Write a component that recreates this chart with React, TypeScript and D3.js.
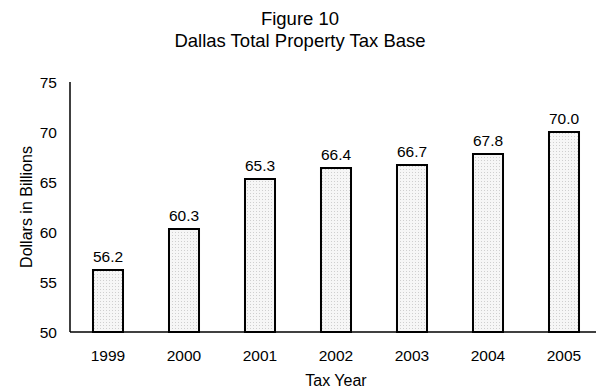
import React from "react";
import * as d3 from "d3";

const categories = ["1999", "2000", "2001", "2002", "2003", "2004", "2005"];
const values = [56.2, 60.3, 65.3, 66.4, 66.7, 67.8, 70.0];
const yTicks = [50, 55, 60, 65, 70, 75];
const titleLines = ["Figure 10", "Dallas Total Property Tax Base"];
const xTitle = "Tax Year";
const yTitle = "Dollars in Billions";

export default function App() {
  const W = 596, H = 389;
  const left = 70, right = 602, top = 82, bottom = 332;
  const x = d3.scaleBand<string>().domain(categories).range([left, right]).paddingInner(0.605).paddingOuter(0.3025);
  const y = d3.scaleLinear().domain([50, 75]).range([bottom, top]);
  const font = "'Liberation Sans', Arial, sans-serif";
  return (
    <svg width={W} height={H} style={{ position: "absolute", left: 0, top: 0, background: "#fff" }} fontFamily={font}>
      <defs>
        <pattern id="dots" width="3" height="3" patternUnits="userSpaceOnUse">
          <rect width="3" height="3" fill="#f6f6f6" />
          <rect x="1" y="1" width="1" height="1" fill="#cfcfcf" />
        </pattern>
      </defs>
      <text x={300} y={25} textAnchor="middle" fontSize={18.5} fill="#000">{titleLines[0]}</text>
      <text x={300} y={47} textAnchor="middle" fontSize={18.5} fill="#000">{titleLines[1]}</text>
      {yTicks.map((t) => (
        <text key={t} x={57} y={y(t) + 5.5} textAnchor="end" fontSize={15.5} fill="#000">{t}</text>
      ))}
      {categories.map((c, i) => (
        <g key={c}>
          <rect x={x(c)!} y={y(values[i])} width={x.bandwidth()} height={bottom - y(values[i])} fill="url(#dots)" stroke="#000" strokeWidth={2} />
          <text x={x(c)! + x.bandwidth() / 2} y={y(values[i]) - 8} textAnchor="middle" fontSize={15.5} fill="#000">{values[i].toFixed(1)}</text>
          <text x={x(c)! + x.bandwidth() / 2} y={361} textAnchor="middle" fontSize={15.5} fill="#000">{c}</text>
        </g>
      ))}
      <line x1={left} x2={W} y1={bottom} y2={bottom} stroke="#000" strokeWidth={1.5} />
      <line x1={left} x2={left} y1={top} y2={bottom} stroke="#000" strokeWidth={1.5} />
      <text x={336} y={386} textAnchor="middle" fontSize={16} fill="#000">{xTitle}</text>
      <text transform={`translate(32,207) rotate(-90)`} textAnchor="middle" fontSize={16} fill="#000">{yTitle}</text>
    </svg>
  );
}
